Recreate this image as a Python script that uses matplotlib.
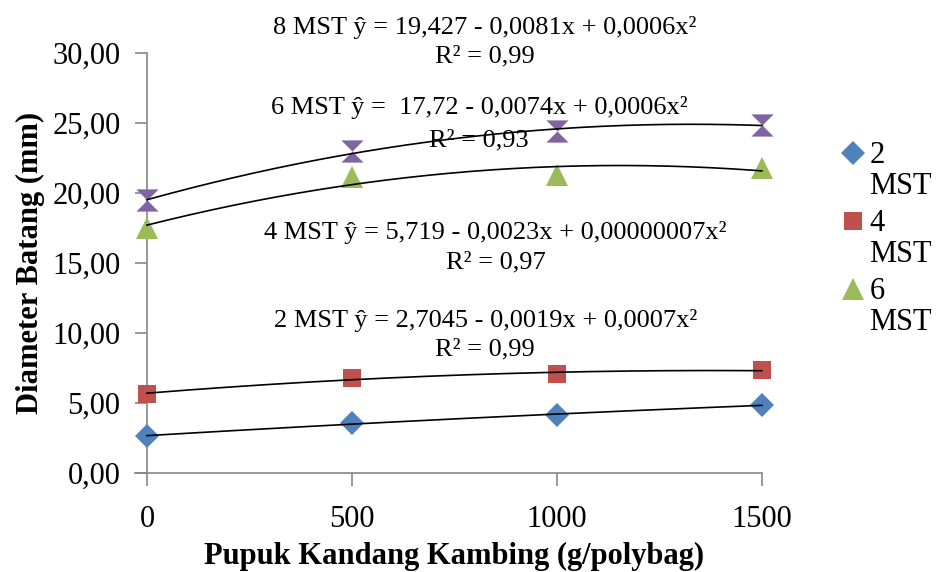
import numpy as np
import matplotlib
matplotlib.use("Agg")
import matplotlib.pyplot as plt
from matplotlib.path import Path
from matplotlib.legend_handler import HandlerLine2D

plt.rcParams['font.family'] = ['Liberation Serif', 'DejaVu Serif']

dosis = [0, 500, 1000, 1500]
mst2 = [2.65, 3.55, 4.15, 4.85]
mst4 = [5.65, 6.80, 7.05, 7.35]
mst6 = [17.5, 21.15, 21.3, 21.75]
mst8 = [19.45, 22.95, 24.4, 24.85]

labels = ['2\nMST', '4\nMST', '6\nMST', '8\nMST']
persamaan = [
    ('2 MST ŷ = 2,7045 - 0,0019x + 0,0007x²', 'R² = 0,99'),
    ('4 MST ŷ = 5,719 - 0,0023x + 0,00000007x²', 'R² = 0,97'),
    ('6 MST ŷ =  17,72 - 0,0074x + 0,0006x²', 'R² = 0,93'),
    ('8 MST ŷ = 19,427 - 0,0081x + 0,0006x²', 'R² = 0,99'),
]

jam_pasir = Path([(-1, 1), (1, 1), (0, 0), (1, -1), (-1, -1), (0, 0), (-1, 1)],
                 [Path.MOVETO, Path.LINETO, Path.LINETO, Path.LINETO,
                  Path.LINETO, Path.LINETO, Path.CLOSEPOLY])


class HandlerNaik(HandlerLine2D):
    # marker legenda sejajar dengan baris pertama label
    def create_artists(self, legend, orig_handle, xdescent, ydescent,
                       width, height, fontsize, trans):
        return super().create_artists(legend, orig_handle, xdescent,
                                      ydescent - 1.2 * fontsize, width, height,
                                      fontsize, trans)


fig = plt.figure(figsize=(9.36, 5.72), dpi=100)
ax = fig.add_axes([0.157, 0.173, 0.657, 0.735])

series = [mst2, mst4, mst6, mst8]
warna = ['#4F81BD', '#C0504D', '#9BBB59', '#8064A2']
marker = ['D', 's', '^', jam_pasir]
ukuran = [12, 13, 16, 16]

xs = np.linspace(0, 1500, 200)
handles = []
for y, c, m, s in zip(series, warna, marker, ukuran):
    h, = ax.plot(dosis, y, linestyle='none', marker=m, color=c, markersize=s,
                 markeredgewidth=0, zorder=3, clip_on=False)
    handles.append(h)
    k = np.polyfit(dosis, y, 2)
    ax.plot(xs, np.polyval(k, xs), color='black', lw=1.2, zorder=4, clip_on=False)

# posisi teks persamaan (koordinat data)
pos = [(825, 10.9, 8.8), (850, 17.2, 15.0), (810, 26.1, 23.7), (825, 31.8, 29.7)]
for (eq, r2), (px, py1, py2) in zip(persamaan, pos):
    ax.text(px, py1, eq, ha='center', va='center', fontsize=19, clip_on=False)
    ax.text(px, py2, r2, ha='center', va='center', fontsize=19, clip_on=False)

ax.set_xlim(0, 1500)
ax.set_ylim(0, 30)
ax.set_xticks(dosis)
ax.set_yticks(np.arange(0, 31, 5))
ax.set_yticklabels([f'{v:.2f}'.replace('.', ',') for v in np.arange(0, 31, 5)])
ax.tick_params(axis='both', labelsize=22, color='#868686', length=9, width=1.2)
ax.tick_params(axis='y', pad=10)
ax.tick_params(axis='x', pad=14)
for sp in ['top', 'right']:
    ax.spines[sp].set_visible(False)
for sp in ['left', 'bottom']:
    ax.spines[sp].set_color('#868686')
    ax.spines[sp].set_linewidth(1.2)
ax.spines['bottom'].set_bounds(-30, 1500)

ax.set_xlabel('Pupuk Kandang Kambing (g/polybag)', fontsize=22, fontweight='bold',
              labelpad=6)
ax.set_ylabel('Diameter Batang (mm)', fontsize=22, fontweight='bold', labelpad=5)

leg = fig.legend(handles[:3], labels[:3], loc='upper left',
                 bbox_to_anchor=(0.880, 0.780), frameon=False, fontsize=22,
                 handletextpad=0.1, handlelength=0.9, labelspacing=0.25,
                 borderpad=0,
                 handler_map={h: HandlerNaik() for h in handles[:3]})
for t in leg.get_texts():
    t.set_linespacing(1.1)

fig.savefig('out.png', dpi=100)
